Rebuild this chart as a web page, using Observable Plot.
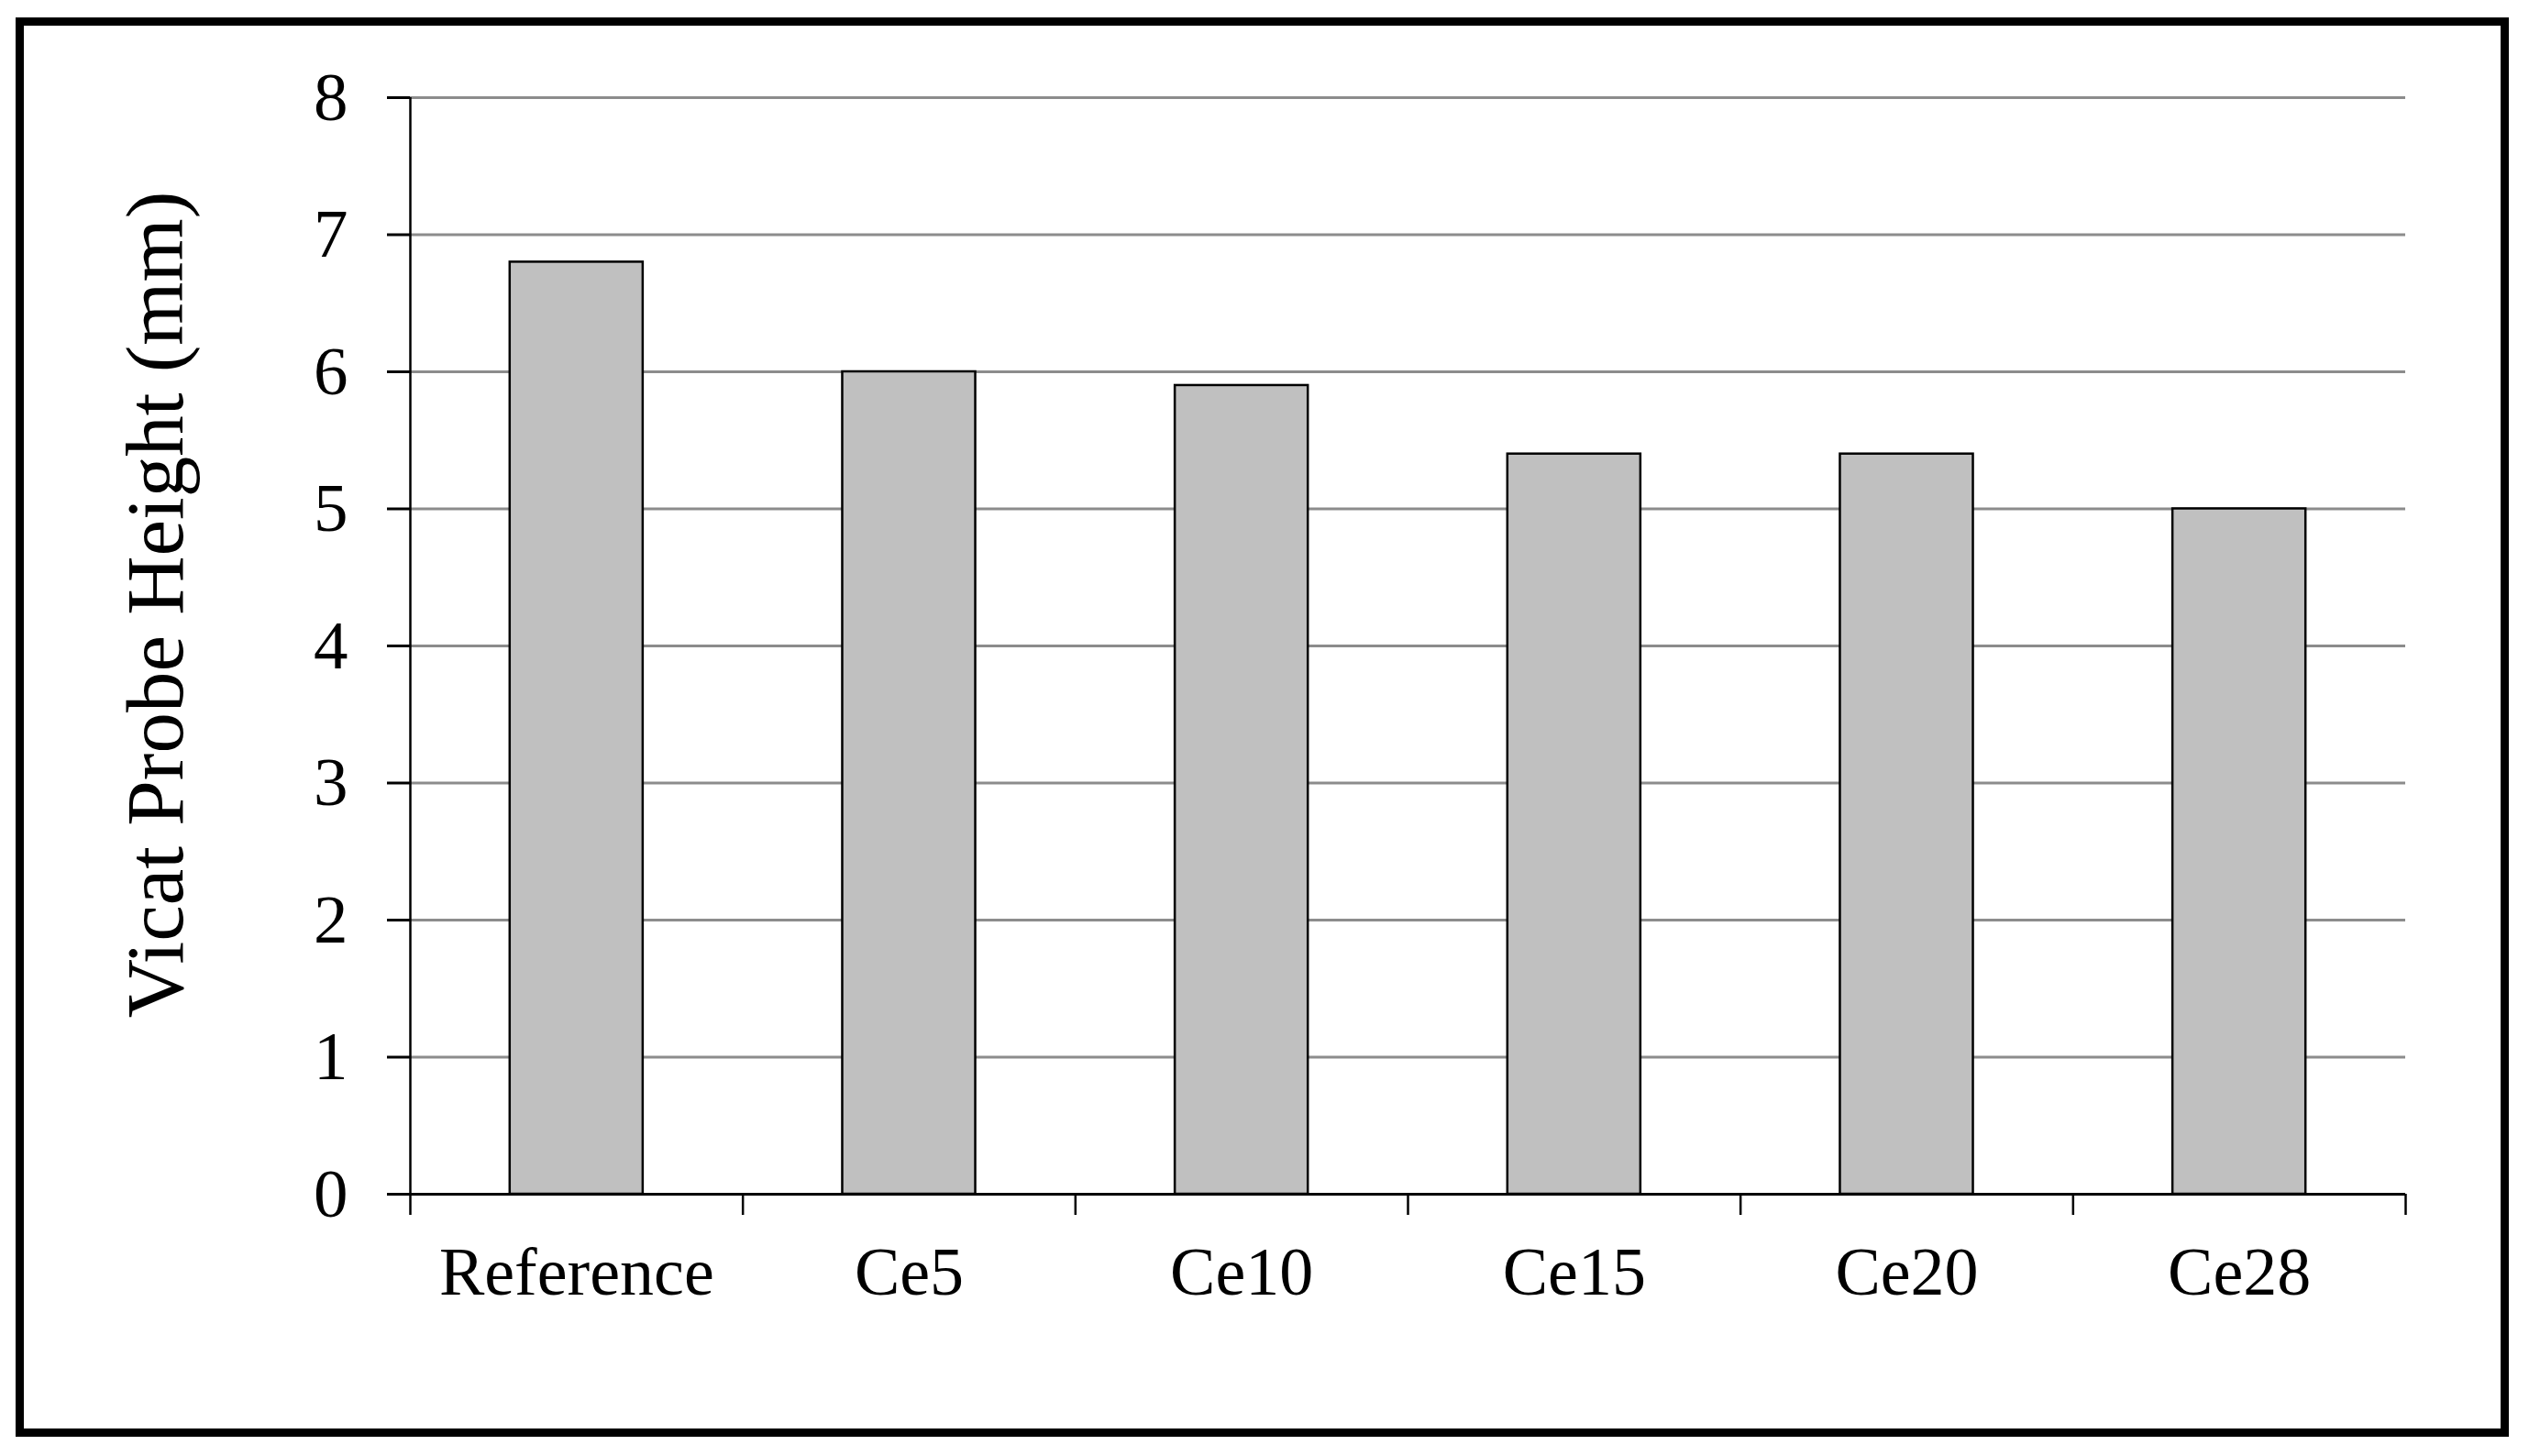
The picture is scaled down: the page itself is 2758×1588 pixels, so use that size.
<!DOCTYPE html>
<html>
<head>
<meta charset="utf-8">
<script src="https://cdn.jsdelivr.net/npm/d3@7"></script>
<script src="https://cdn.jsdelivr.net/npm/@observablehq/plot@0.6"></script>
<style>
  html, body { margin: 0; padding: 0; background: #fff; }
  #wrap { position: relative; width: 2758px; height: 1588px; overflow: hidden; }
  #border { position: absolute; left: 17px; top: 19px; width: 2719px; height: 1548px; box-sizing: border-box; border: 9px solid #000; }
  #chart { position: absolute; left: 0; top: 0; }
</style>
</head>
<body>
<div id="wrap"><div id="border"></div><div id="chart"></div></div>
<script>
const categories = ["Reference", "Ce5", "Ce10", "Ce15", "Ce20", "Ce28"];
const values = [6.8, 6.0, 5.9, 5.4, 5.4, 5.0];
const yTicks = [0, 1, 2, 3, 4, 5, 6, 7, 8];
const gridValues = [1, 2, 3, 4, 5, 6, 7, 8];
const yTitle = "Vicat Probe Height (mm)";

const data = categories.map((c, i) => ({ category: c, index: i, value: values[i] }));
const boundaries = d3.range(categories.length + 1);
const centers = d3.range(categories.length).map(i => i + 0.5);

const font = "'Liberation Serif', 'Times New Roman', serif";

const chart = Plot.plot({
  width: 2758,
  height: 1588,
  marginLeft: 447,
  marginRight: 135,
  marginTop: 106,
  marginBottom: 286,
  style: { fontFamily: font, background: "transparent", color: "#000" },
  x: { type: "linear", domain: [0, categories.length], axis: null },
  y: { domain: [0, 8], axis: null },
  marks: [
    Plot.ruleY(gridValues, { stroke: "#8c8c8c", strokeWidth: 3 }),
    Plot.rectY(data, {
      x1: d => d.index + 0.3,
      x2: d => d.index + 0.7,
      y: "value",
      fill: "#c0c0c0",
      stroke: "#000",
      strokeWidth: 2.5
    }),
    Plot.ruleX([0], { y1: 0, y2: 8, stroke: "#000", strokeWidth: 2.5 }),
    Plot.ruleY([0], { stroke: "#000", strokeWidth: 3 }),
    Plot.axisY({
      ticks: yTicks,
      tickSize: 25,
      tickPadding: 43,
      fontSize: 75,
      strokeWidth: 3,
      label: null
    }),
    Plot.axisX({
      ticks: boundaries,
      tickSize: 23,
      tickFormat: () => "",
      strokeWidth: 2.5,
      label: null
    }),
    Plot.axisX({
      ticks: centers,
      tickSize: 0,
      tickPadding: 57,
      fontSize: 74,
      tickFormat: d => categories[Math.floor(d)],
      label: null
    }),
    Plot.text([yTitle], {
      frameAnchor: "left",
      rotate: -90,
      textAnchor: "middle",
      lineAnchor: "bottom",
      dx: -249,
      dy: -45,
      fontSize: 89,
      fill: "#000"
    })
  ]
});
document.getElementById("chart").appendChild(chart);
</script>
</body>
</html>
